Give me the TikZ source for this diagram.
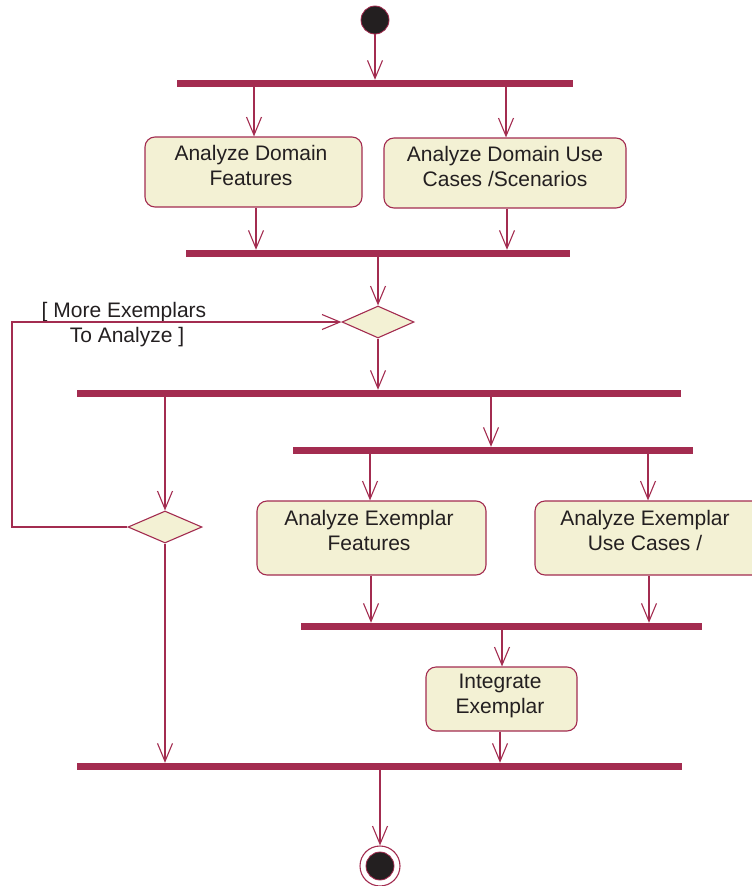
\documentclass[tikz,border=0pt]{standalone}
\usepackage{fontspec}
\setmainfont{Liberation Sans}
\usetikzlibrary{arrows.meta,shapes.geometric}
\definecolor{umlred}{HTML}{A32C50}
\definecolor{umlfill}{HTML}{F3F1D4}
\definecolor{txt}{HTML}{231F20}
\begin{document}
\begin{tikzpicture}[x=1pt,y=-1pt,
 bar/.style={rectangle, fill=umlred, draw=none, minimum height=7pt, inner sep=0},
 act/.style={rectangle, draw=umlred, fill=umlfill, rounded corners=10pt, line width=1.1pt, inner sep=0},
 lbl/.style={text=txt, align=center, font=\fontsize{21}{25}\selectfont, inner sep=0},
 arr/.style={draw=umlred, line width=1.1pt, -{Straight Barb[length=18pt,width=15pt,line width=1.1pt]}},
 dec/.style={diamond, draw=umlred, fill=umlfill, line width=1.1pt, inner sep=0, aspect=2.2}]
\useasboundingbox (0,0) rectangle (752,886);

% bars
\node[bar, minimum width=396pt] (bar1) at (375,83.5) {};
\node[bar, minimum width=384pt] (bar2) at (378,253.5) {};
\node[bar, minimum width=604pt] (bar3) at (379,393.5) {};
\node[bar, minimum width=400pt] (bar4) at (493,450.5) {};
\node[bar, minimum width=401pt] (bar5) at (501.5,626.5) {};
\node[bar, minimum width=605pt] (bar6) at (379.5,766.5) {};

% activities
\node[act, minimum width=217pt, minimum height=70pt] (box1) at (253.5,172) {};
\node[act, minimum width=242pt, minimum height=70pt] (box2) at (505,173) {};
\node[act, minimum width=229pt, minimum height=74pt] (box3) at (371.5,538) {};
\node[act, minimum width=240pt, minimum height=74pt] (box4) at (655,538) {};
\node[act, minimum width=151pt, minimum height=64pt] (box5) at (501.5,699) {};

\node[lbl] (t1) at (251,165.5) {Analyze Domain\\Features};
\node[lbl] (t2) at (505,166.5) {Analyze Domain Use\\Cases /Scenarios};
\node[lbl] (t3) at (369,530.5) {Analyze Exemplar\\Features};
\node[lbl] (t4) at (645,530.5) {Analyze Exemplar\\Use Cases /};
\node[lbl] (t5) at (500,696) {Integrate\\Exemplar};

% decisions
\node[dec, minimum width=72pt, minimum height=32pt] (dec1) at (378,322) {};
\node[dec, minimum width=74pt, minimum height=32pt] (dec2) at (165,527) {};

% start / end
\node[circle, fill=txt, draw=umlred, line width=0.8pt, minimum size=28pt, inner sep=0] (start) at (375,20) {};
\node[circle, draw=umlred, line width=1.1pt, minimum size=40pt, inner sep=0] (end) at (380,866) {};
\node[circle, fill=txt, draw=umlred, line width=0.8pt, minimum size=28pt, inner sep=0] (endin) at (380,866) {};

% guard label
\node[lbl] (guard) at (124,325) {[ More Exemplars\\\hspace*{6pt}To Analyze ]};

% connectors
\draw[arr] (start.south) -- (start.south |- bar1.north);
\draw[arr] (254,0 |- bar1.south) -- (254,0 |- box1.north);
\draw[arr] (506,0 |- bar1.south) -- (506,0 |- box2.north);
\draw[arr] (256,0 |- box1.south) -- (256,0 |- bar2.north);
\draw[arr] (507,0 |- box2.south) -- (507,0 |- bar2.north);
\draw[arr] (dec1.north |- bar2.south) -- (dec1.north);
\draw[arr] (dec1.south) -- (dec1.south |- bar3.north);
\draw[arr] (dec2.west) -- (12,0 |- dec2.west) -- (12,0 |- dec1.west) -- (dec1.west);
\draw[arr] (dec2.north |- bar3.south) -- (dec2.north);
\draw[arr] (491,0 |- bar3.south) -- (491,0 |- bar4.north);
\draw[arr] (370,0 |- bar4.south) -- (370,0 |- box3.north);
\draw[arr] (648,0 |- bar4.south) -- (648,0 |- box4.north);
\draw[arr] (371,0 |- box3.south) -- (371,0 |- bar5.north);
\draw[arr] (649,0 |- box4.south) -- (649,0 |- bar5.north);
\draw[arr] (502,0 |- bar5.south) -- (502,0 |- box5.north);
\draw[arr] (500,0 |- box5.south) -- (500,0 |- bar6.north);
\draw[arr] (dec2.south) -- (dec2.south |- bar6.north);
\draw[arr] (380,0 |- bar6.south) -- (end.north);
\end{tikzpicture}
\end{document}
